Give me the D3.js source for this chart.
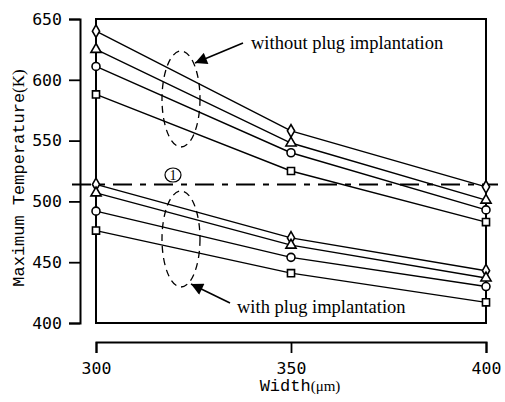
<!DOCTYPE html>
<html><head><meta charset="utf-8">
<script src="https://cdn.jsdelivr.net/npm/d3@7"></script>
<style>body{margin:0;background:#fff}svg{display:block}</style>
</head><body>
<svg id="c" width="505" height="402"></svg>
<script>
const widths = [300, 350, 400];
const xTicks = [300, 350, 400];
const yTicks = [400, 450, 500, 550, 600, 650];
// without plug implantation
const woDiamond = [640, 558, 512];
const woTriangle = [625, 548, 501];
const woCircle = [611, 540, 493];
const woSquare = [588, 525, 483];
// with plug implantation
const wDiamond = [514, 470, 443];
const wTriangle = [507, 464, 437];
const wCircle = [492, 454, 430];
const wSquare = [476, 441, 417];
const refLine = 514;

const series = [
  {v: woDiamond, s: d3.symbolDiamond}, {v: woTriangle, s: d3.symbolTriangle},
  {v: woCircle, s: d3.symbolCircle}, {v: woSquare, s: d3.symbolSquare},
  {v: wDiamond, s: d3.symbolDiamond}, {v: wTriangle, s: d3.symbolTriangle},
  {v: wCircle, s: d3.symbolCircle}, {v: wSquare, s: d3.symbolSquare}
];

const svg = d3.select('#c');
const x = d3.scaleLinear().domain([300, 400]).range([96, 486]);
const y = d3.scaleLinear().domain([400, 650]).range([323, 19]);

// inner frame
svg.append('rect').attr('x', x(300)).attr('y', y(650))
  .attr('width', x(400) - x(300)).attr('height', y(400) - y(650))
  .attr('fill', 'none').attr('stroke', '#000').attr('stroke-width', 2);

// y axis (offset)
const yAxis = d3.axisLeft(y).tickValues(yTicks).tickSizeOuter(0).tickSize(11).tickPadding(7);
const gy = svg.append('g').attr('transform', 'translate(80,0)').call(yAxis);
gy.select('.domain').attr('stroke-width', 2);
gy.selectAll('.tick line').attr('stroke-width', 1.8);
gy.selectAll('text').attr('font-family', 'DejaVu Sans Mono').attr('font-size', 16.5).attr('fill', '#000');

// x axis (offset)
const xAxis = d3.axisBottom(x).tickValues(xTicks).tickSizeOuter(0).tickSize(11).tickPadding(9);
const gx = svg.append('g').attr('transform', 'translate(0,342)').call(xAxis);
gx.select('.domain').attr('stroke-width', 2);
gx.selectAll('.tick line').attr('stroke-width', 1.8);
gx.selectAll('text').attr('font-family', 'DejaVu Sans Mono').attr('font-size', 16.5).attr('fill', '#000');

// reference dash-dot line
svg.append('line').attr('x1', 72).attr('x2', 498).attr('y1', y(refLine)).attr('y2', y(refLine))
  .attr('stroke', '#000').attr('stroke-width', 2).attr('stroke-dasharray', '19,8,6,8');
// circled label
svg.append('ellipse').attr('cx', 173).attr('cy', 175).attr('rx', 8).attr('ry', 7)
  .attr('fill', '#fff').attr('stroke', '#000').attr('stroke-width', 1.2);
svg.append('text').attr('x', 173).attr('y', 180).attr('text-anchor', 'middle')
  .attr('font-family', 'Liberation Serif').attr('font-size', 14).attr('fill', '#000').text('1');

// series lines + markers
const line = d3.line().x((d, i) => x(widths[i])).y(d => y(d));
series.forEach(s => {
  svg.append('path').attr('d', line(s.v)).attr('fill', 'none').attr('stroke', '#000').attr('stroke-width', 1.4);
});
series.forEach(s => {
  const size = s.s === d3.symbolCircle ? 50 : (s.s === d3.symbolTriangle ? 45 : (s.s === d3.symbolDiamond ? 45 : 50));
  svg.selectAll(null).data(s.v).enter().append('path')
    .attr('d', d3.symbol().type(s.s).size(size))
    .attr('transform', (d, i) => `translate(${x(widths[i])},${y(d)})`)
    .attr('fill', '#fff').attr('stroke', '#000').attr('stroke-width', 1.6);
});

// dashed ellipses
[[181, 99], [181, 239]].forEach(c => {
  svg.append('ellipse').attr('cx', c[0]).attr('cy', c[1]).attr('rx', 19).attr('ry', 48)
    .attr('fill', 'none').attr('stroke', '#000').attr('stroke-width', 1.3).attr('stroke-dasharray', '7,5');
});

// arrows
svg.append('defs').append('marker').attr('id', 'ah').attr('viewBox', '0 0 10 10')
  .attr('refX', 10).attr('refY', 5).attr('markerWidth', 14).attr('markerHeight', 12)
  .attr('markerUnits', 'userSpaceOnUse').attr('orient', 'auto')
  .append('path').attr('d', 'M0,0L10,5L0,10Z').attr('fill', '#000');
[[243, 43, 195, 63], [230, 303, 191, 284]].forEach(a => {
  svg.append('line').attr('x1', a[0]).attr('y1', a[1]).attr('x2', a[2]).attr('y2', a[3])
    .attr('stroke', '#000').attr('stroke-width', 1.6).attr('marker-end', 'url(#ah)');
});

// annotation texts
svg.append('text').attr('x', 251).attr('y', 49).attr('font-family', 'Liberation Serif')
  .attr('font-size', 18.5).attr('fill', '#000').text('without plug implantation');
svg.append('text').attr('x', 237).attr('y', 313).attr('font-family', 'Liberation Serif')
  .attr('font-size', 18.5).attr('fill', '#000').text('with plug implantation');

// axis titles
const xt = svg.append('text').attr('x', 300).attr('y', 391).attr('text-anchor', 'middle').attr('fill', '#000');
xt.append('tspan').attr('font-family', 'Liberation Mono').attr('font-size', 17).text('Width');
xt.append('tspan').attr('font-family', 'Liberation Serif').attr('font-size', 15).text('(μm)');

const yt = svg.append('text').attr('transform', 'translate(24,178) rotate(-90)').attr('text-anchor', 'middle').attr('fill', '#000');
yt.append('tspan').attr('font-family', 'Liberation Mono').attr('font-size', 17).text('Maximum Temperature');
yt.append('tspan').attr('font-family', 'Liberation Serif').attr('font-size', 17).text('(K)');
</script>
</body></html>
